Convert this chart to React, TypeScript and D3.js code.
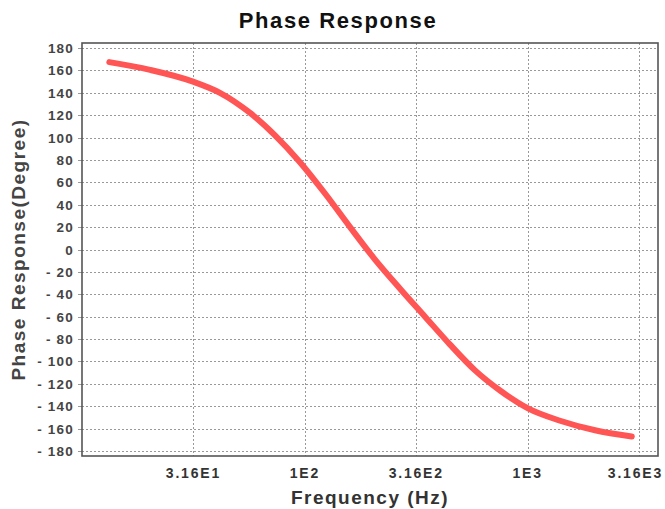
import React from "react"
import * as d3 from "d3"

// values
const freqHz = [13.26, 20.2, 31.5, 41.6, 56.8, 73.5, 95.1, 123.2, 159.6, 206.6, 267.5, 346.3, 448.5, 580.6, 751.8, 1004, 1398, 2007, 2933]
const phaseDeg = [167.4, 160.5, 150, 140, 122, 102, 78, 50, 20, -9, -35, -60, -85, -108, -126, -142, -153, -161.5, -167.1]

const xTickValues = [31.62, 100, 316.2, 1000, 3162]
const xTickLabels = ["3.16E1", "1E2", "3.16E2", "1E3", "3.16E3"]
const yTickValues = d3.range(-180, 181, 20)

const W = 665
const H = 509
const plot = { left: 82, right: 658, top: 43, bottom: 456 }
const font = "'Liberation Sans', Arial, sans-serif"

export default function App() {
    const x = d3
        .scaleLog()
        .domain([10, Math.pow(10, 3.585)])
        .range([plot.left, plot.right])
    const y = d3
        .scaleLinear()
        .domain([-184.5, 184.5])
        .range([plot.bottom, plot.top])

    const pts: [number, number][] = freqHz.map((f, i) => [f, phaseDeg[i]])
    const line = d3
        .line<[number, number]>()
        .x((d) => x(d[0]))
        .y((d) => y(d[1]))
        .curve(d3.curveMonotoneX)

    const yLabel = (v: number) => (v < 0 ? "- " + Math.abs(v) : String(v))

    return (
        <svg
            width={W}
            height={H}
            style={{ position: "absolute", left: 0, top: 0, background: "#fff" }}
        >
            {/* grid */}
            <g stroke="#999" strokeWidth={1} strokeDasharray="2,2">
                {yTickValues.map((v) => (
                    <line
                        key={"gy" + v}
                        x1={plot.left}
                        x2={plot.right}
                        y1={Math.round(y(v)) + 0.5}
                        y2={Math.round(y(v)) + 0.5}
                    />
                ))}
                {xTickValues.map((v) => (
                    <line
                        key={"gx" + v}
                        x1={Math.round(x(v)) + 0.5}
                        x2={Math.round(x(v)) + 0.5}
                        y1={plot.top}
                        y2={plot.bottom}
                    />
                ))}
            </g>
            {/* tick marks */}
            <g stroke="#999" strokeWidth={1}>
                {yTickValues.map((v) => (
                    <line
                        key={"ty" + v}
                        x1={plot.left - 4}
                        x2={plot.left}
                        y1={Math.round(y(v)) + 0.5}
                        y2={Math.round(y(v)) + 0.5}
                    />
                ))}
            </g>
            {/* frame */}
            <rect
                x={plot.left}
                y={plot.top}
                width={plot.right - plot.left}
                height={plot.bottom - plot.top}
                fill="none"
                stroke="#555"
                strokeWidth={1.6}
            />
            {/* curve */}
            <path
                d={line(pts) || ""}
                fill="none"
                stroke="#ff5555"
                strokeWidth={6}
                strokeLinecap="round"
                strokeLinejoin="round"
            />
            {/* y tick labels */}
            <g
                fontFamily={font}
                fontWeight="bold"
                fontSize={13.5}
                fill="#444"
                textAnchor="end"
                letterSpacing={1.2}
            >
                {yTickValues.map((v) => (
                    <text key={"ly" + v} x={74} y={y(v) + 5}>
                        {yLabel(v)}
                    </text>
                ))}
            </g>
            {/* x tick labels, the last one kept inside the page */}
            <g
                fontFamily={font}
                fontWeight="bold"
                fontSize={14}
                fill="#333"
                letterSpacing={1.8}
            >
                {xTickValues.map((v, i) => {
                    const last = i === xTickValues.length - 1
                    return (
                        <text
                            key={"lx" + v}
                            x={last ? W - 2 : x(v)}
                            y={478}
                            textAnchor={last ? "end" : "middle"}
                        >
                            {xTickLabels[i]}
                        </text>
                    )
                })}
            </g>
            <text
                x={338}
                y={28}
                textAnchor="middle"
                fontFamily={font}
                fontWeight="bold"
                fontSize={22}
                letterSpacing={1.6}
                fill="#111"
            >
                Phase Response
            </text>
            <text
                x={370}
                y={504}
                textAnchor="middle"
                fontFamily={font}
                fontWeight="bold"
                fontSize={19}
                letterSpacing={1.5}
                fill="#333"
            >
                Frequency (Hz)
            </text>
            <text
                transform={`translate(25,${(plot.top + plot.bottom) / 2}) rotate(-90)`}
                textAnchor="middle"
                fontFamily={font}
                fontWeight="bold"
                fontSize={19}
                letterSpacing={1.5}
                fill="#444"
            >
                Phase Response(Degree)
            </text>
        </svg>
    )
}
